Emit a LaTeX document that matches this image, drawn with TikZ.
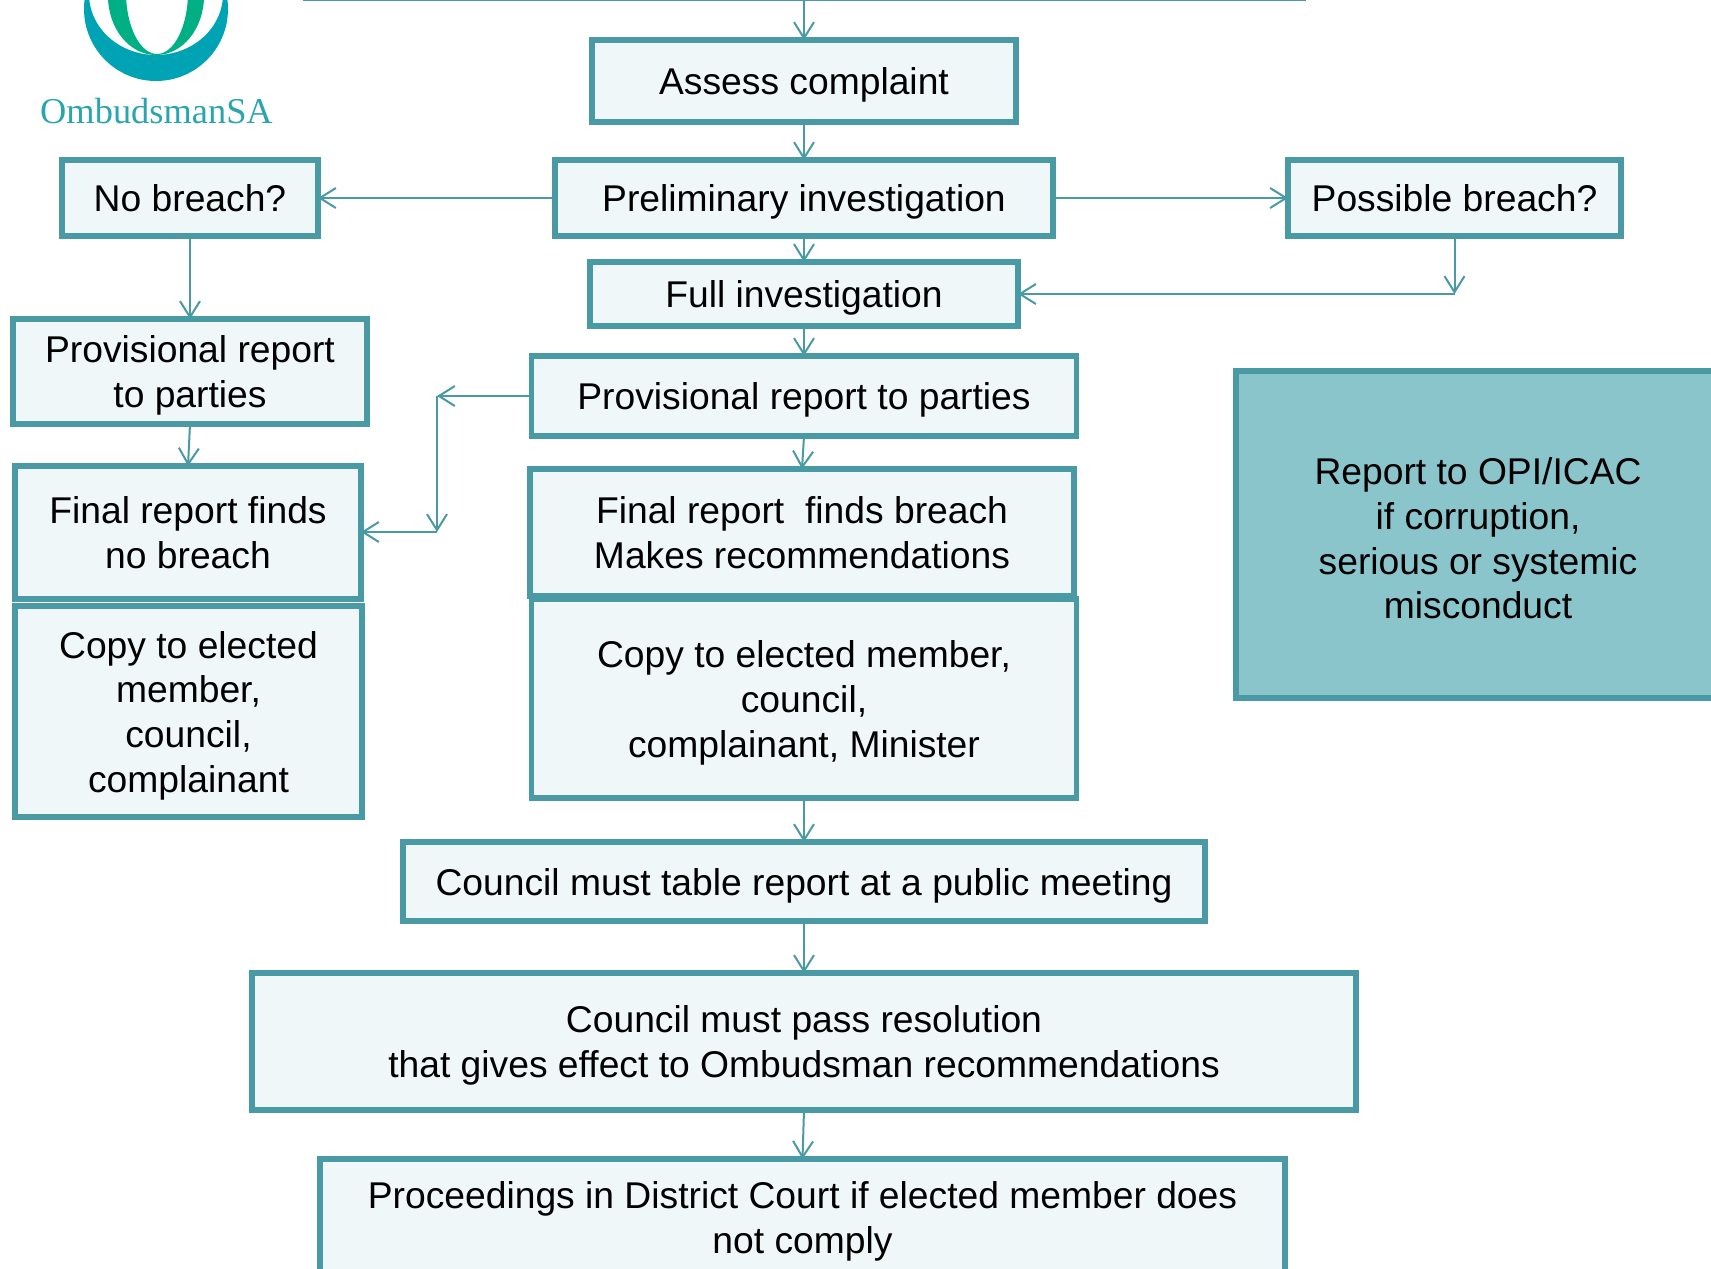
\documentclass[tikz,border=0pt]{standalone}
\usepackage{fontspec}
\setmainfont{Liberation Sans}
\newfontfamily\logofont{Liberation Serif}
\usetikzlibrary{arrows.meta}
\definecolor{teal1}{HTML}{4A9AA5}
\definecolor{pale}{HTML}{EFF7F9}
\definecolor{opi}{HTML}{8AC5CC}
\definecolor{logoteal}{HTML}{00A3B4}
\definecolor{logogreen}{HTML}{00B084}
\definecolor{logotext}{HTML}{2AA5B0}
\tikzset{
  box/.style={draw=teal1,line width=2.6pt,fill=pale,align=center,outer sep=0pt,inner sep=0pt,
    font=\fontsize{18.62}{22.4}\selectfont,text=black},
  opibox/.style={box,fill=opi},
  link/.style={draw=teal1,line width=1pt,-{Straight Barb[length=8pt,width=10pt,line width=1pt]}},
  plain/.style={draw=teal1,line width=1pt}
}
\newcommand{\tstart}{\rule{0pt}{18.45pt}}
\newcommand{\tstop}{\rule[-4.65pt]{0pt}{4.65pt}}
\newcommand{\bx}[7][box]{%
  \pgfmathsetmacro{\cxx}{(#3+#5)/2}\pgfmathsetmacro{\cyy}{(#4+#6)/2}%
  \pgfmathsetmacro{\ww}{(#5-#3)*0.5}\pgfmathsetmacro{\hh}{(#6-#4)*0.5}%
  \node[#1,minimum width=\ww pt,minimum height=\hh pt] (#2) at (\cxx,\cyy) {\tstart #7\tstop};}
\begin{document}
\begin{tikzpicture}[x=0.5pt,y=-0.5pt]
\useasboundingbox (0,0) rectangle (1711,1268);
\begin{scope}
\clip (0,0) rectangle (1711,1268);
% logo
\fill[logoteal,even odd rule] (156,9) circle (72) (156,-6) ellipse (67 and 61);
\fill[logogreen,even odd rule] (156,-4) ellipse (48 and 59) (157,-8) ellipse (31 and 62);
\node[font=\logofont\fontsize{18.2}{20}\selectfont,text=logotext,inner sep=0pt] (logotext) at (156.5,111) {OmbudsmanSA};
% boxes
\bx{assess}{592}{40}{1016}{122}{Assess complaint}
\bx{prelim}{555}{160}{1053}{236}{Preliminary investigation}
\bx{nob}{62}{160}{318}{236}{No breach?}
\bx{posb}{1288}{160}{1621}{236}{Possible breach?}
\bx{full}{590}{262}{1018}{326}{Full investigation}
\bx{provl}{13}{319}{367}{424}{Provisional report\\to parties}
\bx{provc}{531.5}{356}{1076.5}{436}{Provisional report to parties}
\bx{finl}{15}{466}{361}{599}{Final report finds\\no breach}
\bx{finc}{530}{469}{1074}{596}{Final report\ \ finds breach\\Makes recommendations}
\bx{copl}{15}{606}{362}{817}{Copy to elected\\member,\\council,\\complainant}
\bx{copc}{531.5}{599}{1076.5}{798}{Copy to elected member,\\council,\\complainant, Minister}
\bx{table}{403}{842}{1205}{921}{Council must table report at a public meeting}
\bx{pass}{252}{973}{1356}{1110}{Council must pass resolution\\that gives effect to Ombudsman recommendations}
\bx{proc}{320}{1159}{1285}{1276}{Proceedings in District Court if elected member does\\not comply}
\bx[opibox]{opi}{1236}{371}{1720}{698}{\rule{0pt}{21.75pt}Report to OPI/ICAC\\if corruption,\\serious or systemic\\misconduct}
% connectors
\coordinate (topl) at (303,0);
\coordinate (topr) at (1306,0);
\coordinate (topm) at (assess.north |- topl);
\coordinate (j1) at (437,396);
\coordinate (j2) at (437,532);
\coordinate (j3) at (posb.south |- full.east);
\draw[plain] (topl) -- (topr);
\draw[link] (topm) -- (assess.north);
\draw[link] (assess.south) -- (prelim.north);
\draw[link] (prelim.west) -- (nob.east);
\draw[link] (prelim.east) -- (posb.west);
\draw[link] (prelim.south) -- (full.north);
\draw[link] (posb.south) -- (j3);
\draw[link] (j3) -- (full.east);
\draw[link] (full.south) -- (provc.north);
\draw[link] (nob.south) -- (provl.north);
\draw[link] (provl.south) -- (finl.north);
\draw[link] (provc.south) -- (finc.north);
\draw[link] (provc.west) -- (j1);
\draw[link] (j1) -- (j2);
\draw[link] (j2) -- (finl.east |- j2);
\draw[link] (copc.south) -- (table.north);
\draw[link] (table.south) -- (pass.north);
\draw[link] (pass.south) -- (proc.north);
\end{scope}
\end{tikzpicture}
\end{document}
